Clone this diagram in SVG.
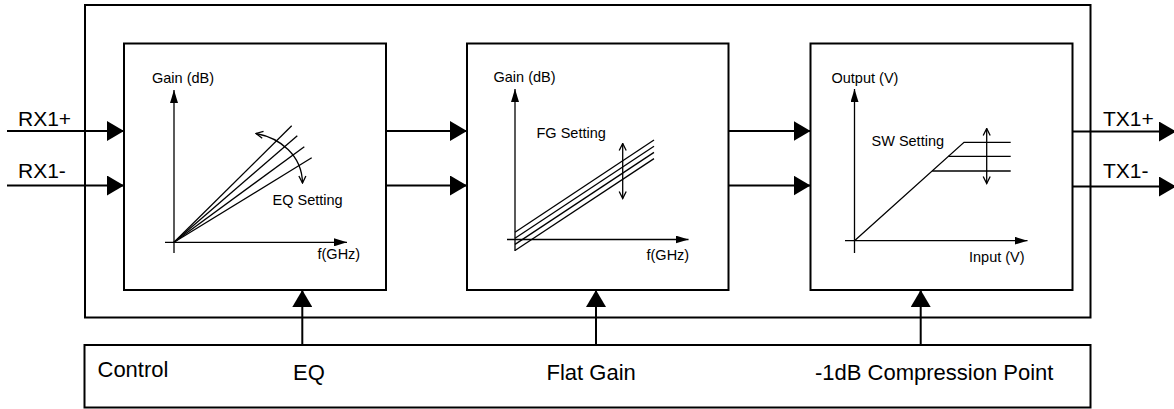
<svg xmlns="http://www.w3.org/2000/svg" width="1174" height="409" viewBox="0 0 1174 409">
<style>
.box{fill:#fff;stroke:#000;stroke-width:2}
.wire{stroke:#000;stroke-width:2;fill:none}
.g{stroke:#000;stroke-width:1.3;fill:none}
.big{font-family:"Liberation Sans",Arial,sans-serif;font-size:21px;fill:#000}
.ctl{font-family:"Liberation Sans",Arial,sans-serif;font-size:22px;fill:#000}
.sm{font-family:"Liberation Sans",Arial,sans-serif;font-size:14.5px;fill:#000}
</style>
<defs>
<marker id="arr" viewBox="0 0 17 20" refX="17" refY="10" markerWidth="17" markerHeight="20" markerUnits="userSpaceOnUse" orient="auto">
<path d="M0,0 L17,10 L0,20 z" fill="#000"/>
</marker>
<marker id="ax" viewBox="0 0 13 8" refX="13" refY="4" markerWidth="13" markerHeight="8" markerUnits="userSpaceOnUse" orient="auto">
<path d="M0,0 L13,4 L0,8 z" fill="#000"/>
</marker>
<marker id="open" viewBox="0 0 9 9" refX="8" refY="4.5" markerWidth="9" markerHeight="9" markerUnits="userSpaceOnUse" orient="auto-start-reverse">
<path d="M1,1 L8,4.5 L1,8" fill="none" stroke="#000" stroke-width="1.3"/>
</marker>
</defs>

<g id="module">
<rect class="box" x="85" y="5" width="1005.5" height="312.5"/>
</g>

<g id="eq-block">
<rect class="box" x="124" y="43.5" width="262" height="246.5"/>
<line class="g" x1="174" y1="253" x2="174" y2="90" marker-end="url(#ax)"/>
<line class="g" x1="165" y1="242.3" x2="347" y2="242.3" marker-end="url(#ax)"/>
<line class="g" x1="174" y1="242.3" x2="291.7" y2="125.7"/>
<line class="g" x1="174" y1="242.3" x2="297.3" y2="135.7"/>
<line class="g" x1="174" y1="242.3" x2="304.3" y2="146.7"/>
<line class="g" x1="174" y1="242.3" x2="311.7" y2="157.7"/>
<path class="g" d="M256,133.5 C280,138 302,155 302.5,183" marker-start="url(#open)" marker-end="url(#open)"/>
<text class="sm" x="152" y="83">Gain (dB)</text>
<text class="sm" x="272.5" y="204.5">EQ Setting</text>
<text class="sm" x="317.5" y="259">f(GHz)</text>
</g>

<g id="fg-block">
<rect class="box" x="467" y="43.5" width="261.5" height="246.5"/>
<line class="g" x1="515" y1="251" x2="515" y2="89" marker-end="url(#ax)"/>
<line class="g" x1="507" y1="239.5" x2="688.5" y2="239.5" marker-end="url(#ax)"/>
<line class="g" x1="515" y1="232.3" x2="654" y2="140"/>
<line class="g" x1="515" y1="238.3" x2="654" y2="146.2"/>
<line class="g" x1="515" y1="244.4" x2="654" y2="152.4"/>
<line class="g" x1="515" y1="250.5" x2="654" y2="158.6"/>
<line class="g" x1="622.7" y1="143.5" x2="622.7" y2="198.5" marker-start="url(#open)" marker-end="url(#open)"/>
<text class="sm" x="493.5" y="81.5">Gain (dB)</text>
<text class="sm" x="536.5" y="138">FG Setting</text>
<text class="sm" x="646.5" y="260">f(GHz)</text>
</g>

<g id="sw-block">
<rect class="box" x="810.5" y="43.5" width="262" height="246.5"/>
<line class="g" x1="854.5" y1="253" x2="854.5" y2="89" marker-end="url(#ax)"/>
<line class="g" x1="845" y1="240.7" x2="1027.5" y2="240.7" marker-end="url(#ax)"/>
<polyline class="g" points="854.5,240.7 964,142.3 1010.7,142.3"/>
<line class="g" x1="948.3" y1="156.3" x2="1010.7" y2="156.3"/>
<line class="g" x1="932.2" y1="171" x2="1010.7" y2="171"/>
<line class="g" x1="986.7" y1="128.5" x2="986.7" y2="183.5" marker-start="url(#open)" marker-end="url(#open)"/>
<text class="sm" x="831.5" y="83">Output (V)</text>
<text class="sm" x="871.5" y="146">SW Setting</text>
<text class="sm" x="969" y="262">Input (V)</text>
</g>

<g id="control">
<rect class="box" x="84.5" y="345" width="1006" height="62.5"/>
<text class="ctl" x="97.5" y="376.5">Control</text>
<text class="ctl" x="293" y="379.5">EQ</text>
<text class="ctl" x="546.5" y="379.5">Flat Gain</text>
<text class="ctl" x="815" y="379.5">-1dB Compression Point</text>
</g>

<g id="labels">
<text class="big" x="18" y="126">RX1+</text>
<text class="big" x="18" y="178">RX1-</text>
<text class="big" x="1103" y="126">TX1+</text>
<text class="big" x="1103" y="178">TX1-</text>
</g>

<g id="connectors">
<line class="wire" x1="7" y1="131" x2="124" y2="131" marker-end="url(#arr)"/>
<line class="wire" x1="7" y1="185.5" x2="124" y2="185.5" marker-end="url(#arr)"/>
<line class="wire" x1="386" y1="131" x2="467" y2="131" marker-end="url(#arr)"/>
<line class="wire" x1="386" y1="185.5" x2="467" y2="185.5" marker-end="url(#arr)"/>
<line class="wire" x1="728.5" y1="131" x2="810.5" y2="131" marker-end="url(#arr)"/>
<line class="wire" x1="728.5" y1="185.5" x2="810.5" y2="185.5" marker-end="url(#arr)"/>
<line class="wire" x1="1072.5" y1="131.5" x2="1176" y2="131.5" marker-end="url(#arr)"/>
<line class="wire" x1="1072.5" y1="186.5" x2="1176" y2="186.5" marker-end="url(#arr)"/>
<line class="wire" x1="302.3" y1="345" x2="302.3" y2="290" marker-end="url(#arr)"/>
<line class="wire" x1="596" y1="345" x2="596" y2="290" marker-end="url(#arr)"/>
<line class="wire" x1="920.7" y1="345" x2="920.7" y2="290" marker-end="url(#arr)"/>
</g>
</svg>
